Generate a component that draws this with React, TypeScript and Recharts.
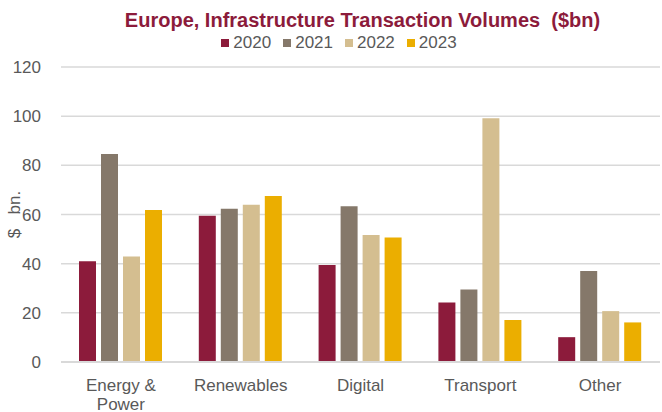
import React from "react";
import { BarChart, Bar, XAxis, YAxis, CartesianGrid, Label } from "recharts";

const categories = ["Energy & Power", "Renewables", "Digital", "Transport", "Other"];
const v2020 = [41, 59.5, 39.5, 24.2, 10.1];
const v2021 = [84.6, 62.3, 63.4, 29.5, 37];
const v2022 = [42.9, 64, 51.7, 99.2, 20.7];
const v2023 = [61.8, 67.5, 50.6, 17.1, 16.1];
const yTicks = [0, 20, 40, 60, 80, 100, 120];
const seriesNames = ["2020", "2021", "2022", "2023"];
const colors = ["#8C1B3B", "#85786A", "#D4BE90", "#EBAE00"];

const data = categories.map((c, i) => ({
  name: c,
  "2020": v2020[i],
  "2021": v2021[i],
  "2022": v2022[i],
  "2023": v2023[i],
}));

const FONT = "'Liberation Sans', Arial, sans-serif";

const XTick = (props: any) => {
  const { x, y, payload } = props;
  const lines =
    payload.value === "Energy & Power" ? ["Energy &", "Power"] : [payload.value];
  return (
    <text x={x} y={y} textAnchor="middle" fill="#595959" fontSize={17} fontFamily={FONT}>
      {lines.map((l: string, i: number) => (
        <tspan key={i} x={x} dy={i === 0 ? 21 : 19}>
          {l}
        </tspan>
      ))}
    </text>
  );
};

export default function App() {
  return (
    <div style={{ position: "absolute", left: 0, top: 0, width: 662, height: 412, background: "#fff", fontFamily: FONT }}>
      <div
        style={{
          position: "absolute",
          left: 0,
          width: 725,
          top: 10,
          lineHeight: "20px",
          textAlign: "center",
          color: "#8C1B3B",
          fontWeight: "bold",
          fontSize: 20,
          whiteSpace: "pre",
        }}
      >
        {"Europe, Infrastructure Transaction Volumes  ($bn)"}
      </div>
      <div
        style={{
          position: "absolute",
          left: 0,
          width: 678,
          top: 33,
          display: "flex",
          justifyContent: "center",
          fontSize: 17,
          color: "#595959",
        }}
      >
        {seriesNames.map((s, i) => (
          <div key={s} style={{ display: "flex", alignItems: "center", marginRight: i < 3 ? 12 : 0 }}>
            <span style={{ display: "inline-block", width: 8, height: 8, background: colors[i], marginRight: 4 }} />
            <span>{s}</span>
          </div>
        ))}
      </div>
      <div style={{ position: "absolute", left: 0, top: 0 }}>
        <BarChart
          width={662}
          height={412}
          data={data}
          margin={{ top: 67, right: 2, bottom: 20, left: 0 }}
          barSize={17}
          barGap={5}
        >
          <CartesianGrid vertical={false} stroke="#D9D9D9" strokeWidth={1.5} />
          <XAxis
            dataKey="name"
            height={30}
            tick={<XTick />}
            tickLine={false}
            axisLine={{ stroke: "#D9D9D9", strokeWidth: 2 }}
            interval={0}
          />
          <YAxis
            width={61}
            domain={[0, 120]}
            ticks={yTicks}
            tickLine={false}
            axisLine={false}
            tick={{ fill: "#595959", fontSize: 17, fontFamily: FONT }}
            tickMargin={14}
          >
            <Label
              value={"$\u00A0\u00A0\u00A0bn."}
              angle={-90}
              position="insideLeft"
              offset={14}
              style={{ fill: "#595959", fontSize: 17, fontFamily: FONT, textAnchor: "middle" }}
            />
          </YAxis>
          {seriesNames.map((s, i) => (
            <Bar key={s} dataKey={s} fill={colors[i]} isAnimationActive={false} />
          ))}
        </BarChart>
      </div>
    </div>
  );
}
